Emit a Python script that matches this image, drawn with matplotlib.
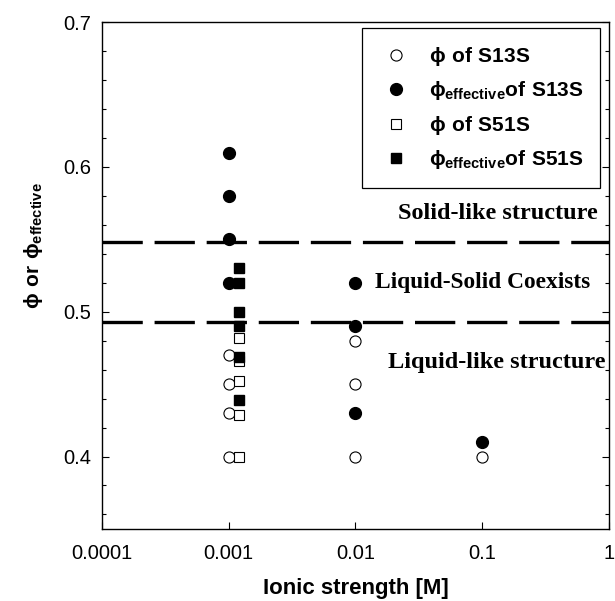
import matplotlib
matplotlib.use("Agg")
from matplotlib import pyplot as plt
from matplotlib.ticker import FixedLocator, MultipleLocator, NullLocator
import matplotlib.transforms as mtransforms

# ionic strength [M] and volume fractions
S13S_X = [0.001, 0.001, 0.001, 0.001, 0.01, 0.01, 0.01, 0.1]
S13S_PHI = [0.47, 0.45, 0.43, 0.40, 0.48, 0.45, 0.40, 0.40]
S13S_EFF_X = [0.001, 0.001, 0.001, 0.001, 0.01, 0.01, 0.01, 0.1]
S13S_EFF = [0.61, 0.58, 0.55, 0.52, 0.52, 0.49, 0.43, 0.41]

S51S_X = [0.0012, 0.0012, 0.0012, 0.0012, 0.0012]
S51S_PHI = [0.482, 0.466, 0.452, 0.429, 0.40]
S51S_EFF_X = [0.0012, 0.0012, 0.0012, 0.0012, 0.0012, 0.0012]
S51S_EFF = [0.53, 0.52, 0.50, 0.49, 0.469, 0.439]

BOUNDARIES = [0.548, 0.493]
XTICKS = [0.0001, 0.001, 0.01, 0.1, 1]
XTICKLABELS = ["0.0001", "0.001", "0.01", "0.1", "1"]
YTICKS = [0.4, 0.5, 0.6, 0.7]

plt.rcParams["font.family"] = ["Liberation Sans", "DejaVu Sans"]
plt.rcParams["mathtext.fontset"] = "custom"
plt.rcParams["mathtext.rm"] = "Liberation Sans"
plt.rcParams["mathtext.bf"] = "Liberation Sans:bold"
plt.rcParams["lines.scale_dashes"] = False

fig = plt.figure(figsize=(6.15, 6.01), dpi=100)
ax = fig.add_axes([0.166, 0.120, 0.824, 0.843])

ax.plot(S13S_X, S13S_PHI, "o", ms=8, mfc="white", mec="black", mew=0.8,
        ls="none", label=r"$\mathbf{ϕ\ of\ S13S}$", zorder=3)
ax.plot(S13S_EFF_X, S13S_EFF, "o", ms=8.5, mfc="black", mec="black",
        ls="none", label=r"$\mathbf{ϕ_{effective}of\ S13S}$", zorder=3)
ax.plot(S51S_X, S51S_PHI, "s", ms=7, mfc="white", mec="black", mew=0.8,
        ls="none", label=r"$\mathbf{ϕ\ of\ S51S}$", zorder=3)
ax.plot(S51S_EFF_X, S51S_EFF, "s", ms=7, mfc="black", mec="black",
        ls="none", label=r"$\mathbf{ϕ_{effective}of\ S51S}$", zorder=3)

for yb in BOUNDARIES:
    ax.axhline(yb, color="black", lw=2.4, dashes=(29, 8.5), zorder=2)

trans = mtransforms.blended_transform_factory(ax.transAxes, ax.transData)
serif = ["Liberation Serif", "DejaVu Serif"]
ax.text(0.978, 0.568, "Solid-like structure", transform=trans, ha="right",
        va="center", family=serif, fontweight="bold", fontsize=17.5)
ax.text(0.75, 0.52, "Liquid-Solid Coexists", transform=trans, ha="center",
        va="center", family=serif, fontweight="bold", fontsize=16.8)
ax.text(0.993, 0.465, "Liquid-like structure", transform=trans, ha="right",
        va="center", family=serif, fontweight="bold", fontsize=17.5)

ax.set_xscale("log")
ax.set_xlim(0.0001, 1)
ax.set_ylim(0.35, 0.7)
ax.xaxis.set_major_locator(FixedLocator(XTICKS))
ax.xaxis.set_minor_locator(NullLocator())
ax.set_xticklabels(XTICKLABELS)
ax.yaxis.set_major_locator(FixedLocator(YTICKS))
ax.yaxis.set_minor_locator(MultipleLocator(0.02))
ax.tick_params(axis="both", which="both", direction="in", labelsize=14.5,
               width=0.8)
ax.tick_params(axis="y", which="both", right=True)
ax.tick_params(which="major", length=5, pad=8)
ax.tick_params(axis="x", which="major", pad=11)
ax.tick_params(which="minor", length=3)
for sp in ax.spines.values():
    sp.set_linewidth(1.0)

ax.set_xlabel("Ionic strength [M]", fontsize=16, fontweight="bold", labelpad=11)
ax.set_ylabel(r"$\mathbf{ϕ\ or\ ϕ_{effective}}$", fontsize=15)
ax.yaxis.set_label_coords(-0.112, 0.56)

leg = ax.legend(loc="upper left", bbox_to_anchor=(0.513, 0.988),
                fontsize=15, frameon=True, fancybox=False, framealpha=1,
                edgecolor="black", handletextpad=0.7, labelspacing=0.55,
                borderpad=0.8, handlelength=1.7, borderaxespad=0)
leg.get_frame().set_linewidth(0.9)

fig.savefig("out.png", dpi=100)
